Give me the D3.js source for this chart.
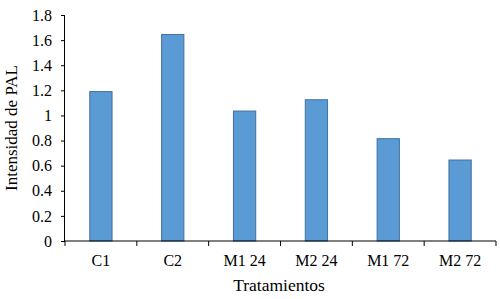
<!DOCTYPE html>
<html>
<head>
<meta charset="utf-8">
<script src="https://cdn.jsdelivr.net/npm/d3@7"></script>
<style>
  body { margin: 0; background: #fff; }
  .axis text { font-family: "Liberation Serif", "Times New Roman", serif; font-size: 16px; fill: #000; }
  .axis path, .axis line { stroke: #000; }
  .title { font-family: "Liberation Serif", "Times New Roman", serif; font-size: 17px; fill: #000; }
</style>
</head>
<body>
<div id="chart"></div>
<script>
// chart data
let categories = ['C1', 'C2', 'M1 24', 'M2 24', 'M1 72', 'M2 72'];
let values = [1.19, 1.645, 1.035, 1.125, 0.815, 0.645];
let yTicks = [0, 0.2, 0.4, 0.6, 0.8, 1, 1.2, 1.4, 1.6, 1.8];

let width = 500;
let height = 299;
let mLeft = 65, mRight = 496, mTop = 15, mBottom = 241;

let svg = d3.select('#chart')
		.append('svg')
		.attr('width', width)
		.attr('height', height);

let xScale = d3.scaleBand()
		.domain(categories)
		.range([mLeft, mRight])
		.paddingInner(0.69)
		.paddingOuter(0.345);

let yScale = d3.scaleLinear()
		.domain([0, 1.8])
		.range([mBottom, mTop]);

// bars
svg.append('g')
		.selectAll('rect')
		.data(values)
		.enter()
		.append('rect')
		.attr('x', (d, i) => xScale(categories[i]))
		.attr('y', d => yScale(d))
		.attr('width', xScale.bandwidth())
		.attr('height', d => yScale(0) - yScale(d))
		.attr('fill', '#5B9BD5')
		.attr('stroke', '#41719C')
		.attr('stroke-width', 1);

// y axis
svg.append('g')
		.attr('class', 'axis')
		.attr('transform', `translate(${mLeft}, 0)`)
		.call(d3.axisLeft(yScale).tickValues(yTicks).tickSize(4).tickPadding(9)
				.tickFormat(d => d3.format('')(+d.toFixed(1))))
		.call(g => g.select('.domain').attr('d', `M-0.5,${mTop}V${mBottom}`));

// x axis with ticks between categories
let step = (mRight - mLeft) / categories.length;
let xg = svg.append('g')
		.attr('class', 'axis')
		.attr('transform', `translate(0, ${mBottom})`);
xg.append('line')
		.attr('x1', mLeft).attr('x2', mRight)
		.attr('stroke', '#000');
xg.selectAll('line.tk')
		.data(d3.range(categories.length + 1))
		.enter()
		.append('line')
		.attr('class', 'tk')
		.attr('x1', i => mLeft + i * step)
		.attr('x2', i => mLeft + i * step)
		.attr('y1', 0)
		.attr('y2', 5)
		.attr('stroke', '#000');
xg.selectAll('text')
		.data(categories)
		.enter()
		.append('text')
		.attr('x', d => xScale(d) + xScale.bandwidth() / 2)
		.attr('y', 25)
		.attr('text-anchor', 'middle')
		.text(d => d);

// axis titles
svg.append('text')
		.attr('class', 'title')
		.attr('x', 279)
		.attr('y', 291)
		.attr('text-anchor', 'middle')
		.style('font-size', '17.5px')
		.text('Tratamientos');

svg.append('text')
		.attr('class', 'title')
		.attr('transform', `translate(17, 128) rotate(-90)`)
		.attr('text-anchor', 'middle')
		.text('Intensidad de PAL');
</script>
</body>
</html>
